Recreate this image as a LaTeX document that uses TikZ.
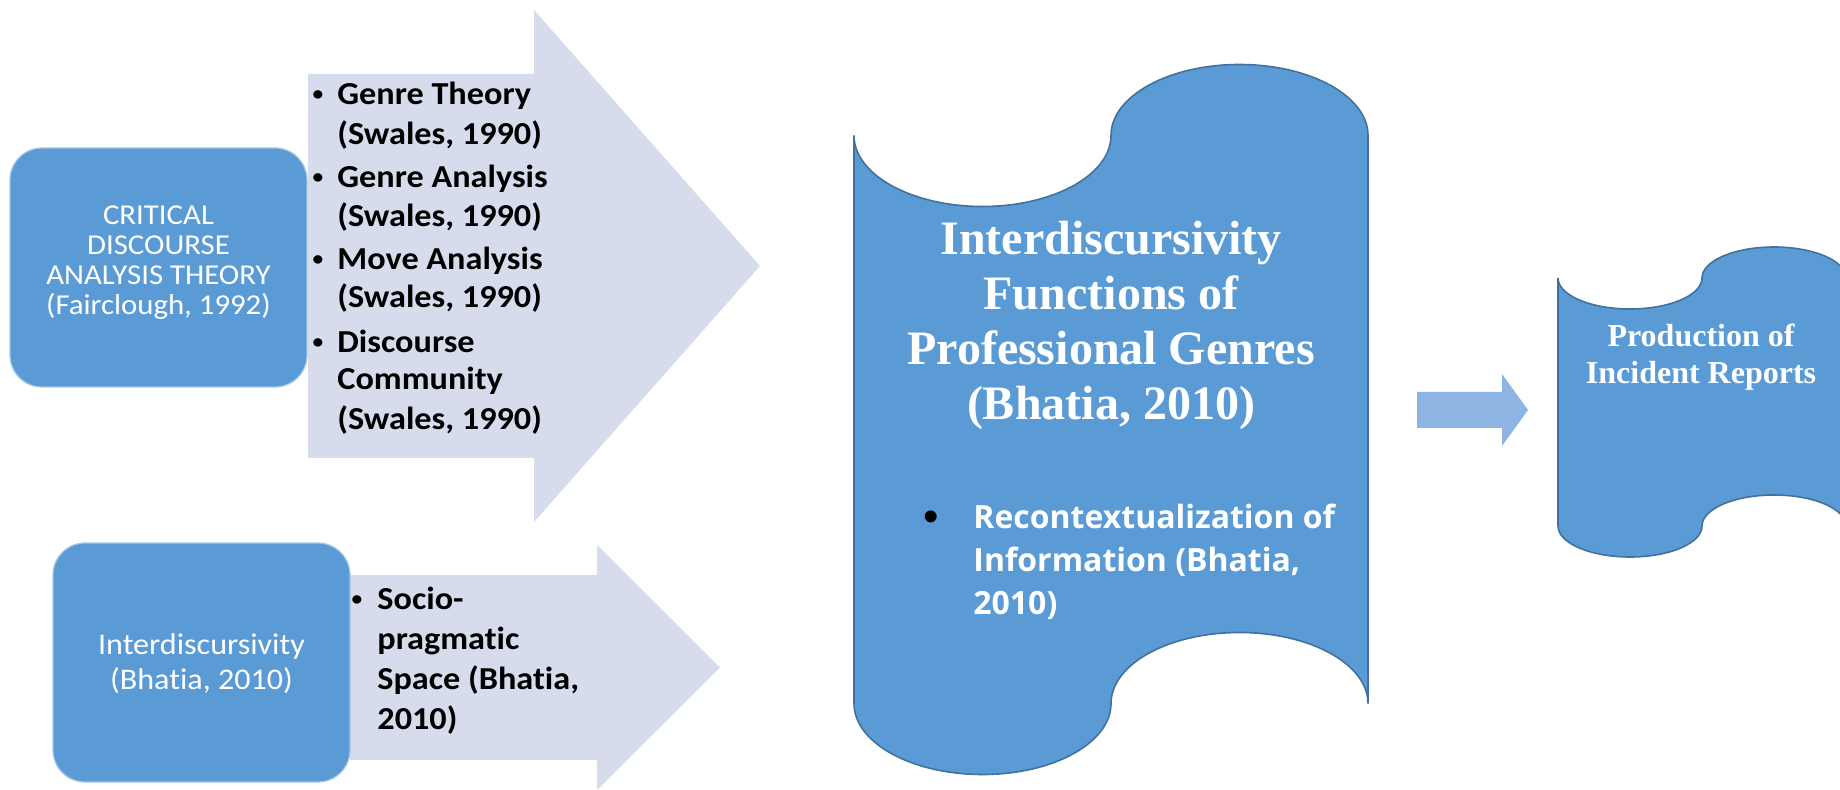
\documentclass[tikz,border=0pt]{standalone}
\usepackage{fontspec}
\setmainfont{Carlito}
\newfontfamily\calibri{Carlito}[FakeStretch=1.07, Ligatures=NoCommon]
\newfontfamily\serifbf{Liberation Serif}
\newfontfamily\opensans{Open Sans}
\newfontfamily\libsans{Liberation Sans}

\definecolor{boxblue}{RGB}{91,155,213}
\definecolor{tapeedge}{RGB}{65,113,156}
\definecolor{arrowgrey}{RGB}{214,220,235}
\definecolor{smallblue}{RGB}{142,180,227}

\tikzset{
    theorybox/.style={fill=boxblue, draw=boxblue!55!white, line width=0.6pt, rounded corners=16pt,
        minimum width=148.5pt, minimum height=119.5pt, inner sep=0pt},
    boxtext/.style={align=center, text=white, inner sep=0pt},
    blockarrow/.style={fill=arrowgrey},
    tape/.style={fill=boxblue, draw=tapeedge, line width=0.8pt},
    listline/.style={anchor=base west, inner sep=0pt, font=\calibri\bfseries\fontsize{16}{19}\selectfont},
    bulletmark/.style={anchor=base, inner sep=0pt, font=\calibri\bfseries\fontsize{10}{12}\selectfont},
    titleline/.style={anchor=base, inner sep=0pt, text=white, font=\serifbf\bfseries\fontsize{24}{27.5}\selectfont},
    itemline/.style={anchor=base west, inner sep=0pt, text=white, font=\opensans\bfseries\fontsize{16}{22}\selectfont}
}

% punched tape outline in a 20 x 20 box
\newcommand{\drawtape}{%
    \draw[tape] (0,2) .. controls (0,3.105) and (2.24,4) .. (5,4)
        .. controls (7.76,4) and (10,3.105) .. (10,2)
        .. controls (10,0.895) and (12.24,0) .. (15,0)
        .. controls (17.76,0) and (20,0.895) .. (20,2)
        -- (20,18)
        .. controls (20,16.895) and (17.76,16) .. (15,16)
        .. controls (12.24,16) and (10,16.895) .. (10,18)
        .. controls (10,19.105) and (7.76,20) .. (5,20)
        .. controls (2.24,20) and (0,19.105) .. (0,18) -- cycle;}

\begin{document}
\begin{tikzpicture}[x=0.5pt, y=-0.5pt]
    \useasboundingbox (0,0) rectangle (1840,790);

    % block arrows
    \fill[blockarrow] (308,74) -- (534,74) -- (534,10) -- (760,266) -- (534,522) -- (534,458) -- (308,458) -- cycle;
    \fill[blockarrow] (350,575) -- (597,575) -- (597,545) -- (720,667.5) -- (597,790) -- (597,760) -- (350,760) -- cycle;

    \node[theorybox] (cda) at (158.5,267.5) {};
    \node[boxtext, font=\calibri\fontsize{14.4}{15}\selectfont] (cdatext) at (158.5,262.5)
        {CRITICAL\\DISCOURSE\\ANALYSIS THEORY\\(Fairclough, 1992)};
    \node[theorybox] (inter) at (201.5,662.5) {};
    \node[boxtext, font=\calibri\fontsize{15}{17.5}\selectfont] (intertext) at (201.5,664)
        {Interdiscursivity\\(Bhatia, 2010)};

    \foreach \y/\txt [count=\i] in {105/Genre Theory, 145/{(Swales, 1990)}, 188/Genre Analysis, 227/{(Swales, 1990)},
            270/Move Analysis, 308/{(Swales, 1990)}, 353/Discourse, 390/Community, 430/{(Swales, 1990)}}
        \node[listline] (genre\i) at (337,\y) {\txt};
    \foreach \y [count=\i] in {105,188,270,353}
        \node[bulletmark] (gb\i) at (318,\y-4) {\textbullet};

    \foreach \y/\txt [count=\i] in {609/Socio-, 649/pragmatic, 689/{Space (Bhatia,}, 729/2010)}
        \node[listline] (socio\i) at (377,\y) {\txt};
    \node[bulletmark] (sb) at (357,605) {\textbullet};

    % tapes
    \begin{scope}[shift={(854,64.5)}, x=12.85pt, y=-17.75pt]
        \drawtape
    \end{scope}
    \begin{scope}[shift={(1558,247)}, x=7.2pt, y=-7.75pt]
        \drawtape
    \end{scope}

    \foreach \y/\txt [count=\i] in {255/Interdiscursivity, 310/Functions of, 365/Professional Genres, 420/{(Bhatia, 2010)}}
        \node[titleline] (title\i) at (1111,\y) {\txt};
    \foreach \y/\txt [count=\i] in {528/Recontextualization of, 571/{Information (Bhatia,}, 614/2010)}
        \node[itemline] (recon\i) at (973,\y) {\txt};
    \node[bulletmark, font=\libsans\fontsize{22}{24}\selectfont] (rb) at (931,531) {\textbullet};

    \fill[smallblue] (1417,392) -- (1502,392) -- (1502,374) -- (1528,410) -- (1502,446) -- (1502,428) -- (1417,428) -- cycle;

    \foreach \y/\txt [count=\i] in {347/Production of, 384/Incident Reports}
        \node[titleline, font=\serifbf\bfseries\fontsize{16}{18.5}\selectfont] (prod\i) at (1701,\y) {\txt};
\end{tikzpicture}
\end{document}
